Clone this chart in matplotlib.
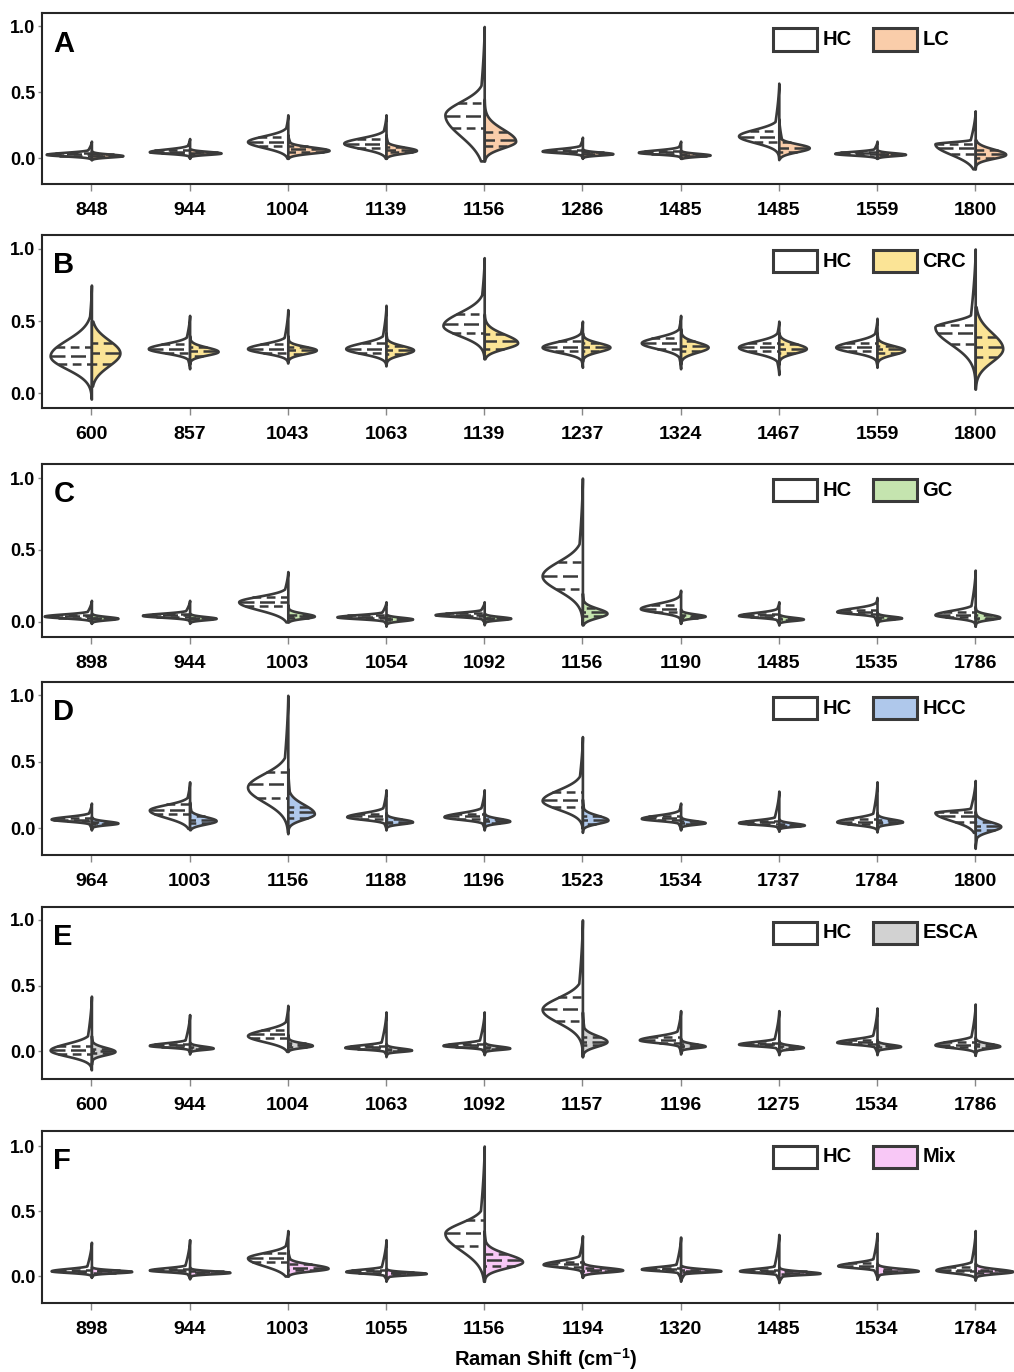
import numpy as np
import matplotlib.pyplot as plt
from matplotlib.patches import Rectangle

plt.rcParams['font.family'] = ['Liberation Sans', 'DejaVu Sans']
plt.rcParams['font.weight'] = 'bold'
plt.rcParams['mathtext.fontset'] = 'custom'
plt.rcParams['mathtext.rm'] = 'Liberation Sans:bold'
plt.rcParams['mathtext.bf'] = 'Liberation Sans:bold'
plt.rcParams['mathtext.default'] = 'rm'

# each half violin: (mode, half width, spread below, spread above, min, max, q1, median, q3)
A_labels = ['848', '944', '1004', '1139', '1156', '1286', '1485', '1485', '1559', '1800']
A_hc = [
    (0.03, 0.46, 0.012, 0.015, -0.01, 0.13, 0.02, 0.03, 0.04),
    (0.05, 0.41, 0.012, 0.020, 0.00, 0.15, 0.04, 0.05, 0.06),
    (0.127, 0.41, 0.045, 0.043, 0.00, 0.33, 0.09, 0.12, 0.16),
    (0.115, 0.43, 0.040, 0.040, 0.00, 0.33, 0.08, 0.11, 0.15),
    (0.33, 0.40, 0.160, 0.100, -0.02, 1.00, 0.23, 0.32, 0.42),
    (0.055, 0.41, 0.012, 0.018, 0.00, 0.16, 0.045, 0.055, 0.065),
    (0.045, 0.43, 0.012, 0.018, 0.00, 0.13, 0.035, 0.045, 0.055),
    (0.17, 0.41, 0.050, 0.050, -0.01, 0.57, 0.12, 0.16, 0.21),
    (0.037, 0.43, 0.012, 0.015, 0.00, 0.13, 0.03, 0.037, 0.045),
    (0.11, 0.41, 0.080, 0.015, -0.08, 0.36, 0.03, 0.08, 0.11),
]
A_dis = [
    (0.02, 0.32, 0.010, 0.012, -0.01, 0.06, 0.015, 0.02, 0.03),
    (0.04, 0.32, 0.010, 0.012, 0.00, 0.07, 0.03, 0.04, 0.045),
    (0.06, 0.42, 0.020, 0.025, 0.00, 0.18, 0.05, 0.07, 0.09),
    (0.06, 0.31, 0.020, 0.025, 0.00, 0.18, 0.05, 0.065, 0.085),
    (0.13, 0.32, 0.050, 0.090, -0.02, 0.45, 0.09, 0.14, 0.20),
    (0.035, 0.31, 0.010, 0.012, 0.00, 0.07, 0.03, 0.035, 0.045),
    (0.025, 0.30, 0.010, 0.012, 0.00, 0.06, 0.02, 0.025, 0.035),
    (0.08, 0.31, 0.030, 0.030, 0.00, 0.30, 0.05, 0.08, 0.12),
    (0.03, 0.29, 0.010, 0.012, 0.00, 0.06, 0.025, 0.03, 0.035),
    (0.03, 0.31, 0.030, 0.040, -0.08, 0.14, 0.00, 0.03, 0.06),
]

B_labels = ['600', '857', '1043', '1063', '1139', '1237', '1324', '1467', '1559', '1800']
B_hc = [
    (0.26, 0.42, 0.090, 0.110, -0.04, 0.75, 0.20, 0.26, 0.32),
    (0.31, 0.42, 0.030, 0.035, 0.17, 0.54, 0.28, 0.31, 0.34),
    (0.31, 0.41, 0.030, 0.035, 0.21, 0.58, 0.28, 0.31, 0.34),
    (0.31, 0.41, 0.035, 0.040, 0.19, 0.61, 0.28, 0.31, 0.35),
    (0.47, 0.42, 0.070, 0.090, 0.24, 0.94, 0.42, 0.48, 0.55),
    (0.32, 0.41, 0.035, 0.040, 0.18, 0.50, 0.29, 0.32, 0.36),
    (0.35, 0.40, 0.040, 0.040, 0.17, 0.54, 0.31, 0.35, 0.38),
    (0.32, 0.41, 0.040, 0.040, 0.13, 0.50, 0.29, 0.32, 0.35),
    (0.32, 0.42, 0.035, 0.040, 0.18, 0.52, 0.29, 0.32, 0.35),
    (0.46, 0.41, 0.120, 0.040, 0.03, 1.00, 0.34, 0.42, 0.47),
]
B_dis = [
    (0.28, 0.29, 0.090, 0.090, 0.05, 0.50, 0.20, 0.28, 0.35),
    (0.29, 0.29, 0.025, 0.030, 0.20, 0.40, 0.26, 0.29, 0.32),
    (0.30, 0.29, 0.025, 0.025, 0.22, 0.40, 0.27, 0.30, 0.32),
    (0.30, 0.28, 0.030, 0.030, 0.20, 0.42, 0.27, 0.30, 0.33),
    (0.35, 0.34, 0.040, 0.060, 0.24, 0.55, 0.31, 0.36, 0.41),
    (0.32, 0.28, 0.030, 0.030, 0.22, 0.42, 0.29, 0.32, 0.35),
    (0.32, 0.28, 0.035, 0.035, 0.20, 0.45, 0.29, 0.33, 0.36),
    (0.31, 0.28, 0.030, 0.035, 0.20, 0.42, 0.28, 0.31, 0.34),
    (0.30, 0.28, 0.030, 0.030, 0.20, 0.42, 0.28, 0.31, 0.33),
    (0.31, 0.28, 0.090, 0.110, 0.03, 0.60, 0.25, 0.32, 0.39),
]

C_labels = ['898', '944', '1003', '1054', '1092', '1156', '1190', '1485', '1535', '1786']
C_hc = [
    (0.04, 0.48, 0.012, 0.015, -0.01, 0.15, 0.03, 0.04, 0.05),
    (0.045, 0.48, 0.012, 0.015, 0.00, 0.15, 0.035, 0.045, 0.055),
    (0.14, 0.50, 0.055, 0.038, 0.00, 0.35, 0.11, 0.14, 0.17),
    (0.035, 0.50, 0.012, 0.015, -0.02, 0.14, 0.025, 0.035, 0.045),
    (0.05, 0.50, 0.012, 0.015, -0.01, 0.14, 0.04, 0.05, 0.06),
    (0.32, 0.41, 0.100, 0.100, -0.02, 1.00, 0.23, 0.32, 0.42),
    (0.093, 0.41, 0.025, 0.035, -0.01, 0.22, 0.07, 0.09, 0.12),
    (0.045, 0.41, 0.012, 0.020, -0.02, 0.14, 0.035, 0.045, 0.055),
    (0.072, 0.41, 0.015, 0.025, -0.02, 0.17, 0.055, 0.07, 0.085),
    (0.05, 0.41, 0.020, 0.030, -0.03, 0.36, 0.035, 0.05, 0.07),
]
C_dis = [
    (0.025, 0.27, 0.010, 0.012, -0.01, 0.06, 0.02, 0.025, 0.03),
    (0.025, 0.27, 0.010, 0.012, -0.01, 0.06, 0.02, 0.025, 0.03),
    (0.04, 0.27, 0.015, 0.020, 0.00, 0.12, 0.03, 0.04, 0.05),
    (0.02, 0.27, 0.012, 0.012, -0.03, 0.05, 0.01, 0.02, 0.03),
    (0.025, 0.27, 0.010, 0.012, -0.02, 0.06, 0.02, 0.025, 0.03),
    (0.06, 0.25, 0.030, 0.035, -0.02, 0.20, 0.04, 0.07, 0.10),
    (0.04, 0.25, 0.012, 0.015, -0.01, 0.09, 0.03, 0.04, 0.05),
    (0.02, 0.25, 0.010, 0.012, -0.02, 0.05, 0.01, 0.02, 0.03),
    (0.028, 0.25, 0.010, 0.012, -0.02, 0.07, 0.02, 0.028, 0.035),
    (0.032, 0.25, 0.015, 0.020, -0.03, 0.11, 0.02, 0.03, 0.05),
]

D_labels = ['964', '1003', '1156', '1188', '1196', '1523', '1534', '1737', '1784', '1800']
D_hc = [
    (0.07, 0.41, 0.015, 0.020, -0.01, 0.19, 0.055, 0.065, 0.08),
    (0.138, 0.41, 0.055, 0.040, 0.00, 0.35, 0.11, 0.14, 0.18),
    (0.31, 0.41, 0.110, 0.100, -0.03, 1.00, 0.23, 0.33, 0.42),
    (0.088, 0.40, 0.020, 0.030, -0.01, 0.29, 0.07, 0.09, 0.11),
    (0.088, 0.41, 0.020, 0.030, -0.01, 0.29, 0.07, 0.09, 0.11),
    (0.21, 0.41, 0.066, 0.080, 0.00, 0.69, 0.16, 0.21, 0.27),
    (0.075, 0.40, 0.015, 0.025, -0.01, 0.19, 0.06, 0.075, 0.09),
    (0.043, 0.41, 0.012, 0.020, -0.02, 0.28, 0.035, 0.045, 0.055),
    (0.05, 0.41, 0.020, 0.030, -0.025, 0.35, 0.035, 0.05, 0.07),
    (0.12, 0.41, 0.060, 0.015, -0.03, 0.36, 0.05, 0.09, 0.12),
]
D_dis = [
    (0.04, 0.27, 0.012, 0.015, -0.01, 0.09, 0.03, 0.04, 0.05),
    (0.058, 0.27, 0.025, 0.030, -0.01, 0.20, 0.04, 0.06, 0.09),
    (0.11, 0.27, 0.040, 0.070, -0.04, 0.45, 0.08, 0.12, 0.16),
    (0.05, 0.27, 0.015, 0.020, -0.01, 0.12, 0.04, 0.05, 0.07),
    (0.055, 0.26, 0.015, 0.020, -0.01, 0.12, 0.04, 0.055, 0.07),
    (0.063, 0.26, 0.025, 0.035, -0.03, 0.22, 0.035, 0.065, 0.09),
    (0.043, 0.25, 0.012, 0.015, -0.01, 0.09, 0.03, 0.043, 0.055),
    (0.025, 0.26, 0.010, 0.015, -0.02, 0.07, 0.02, 0.027, 0.035),
    (0.05, 0.26, 0.015, 0.020, -0.025, 0.12, 0.04, 0.05, 0.065),
    (0.015, 0.26, 0.035, 0.035, -0.15, 0.13, -0.01, 0.015, 0.05),
]

E_labels = ['600', '944', '1004', '1063', '1092', '1157', '1196', '1275', '1534', '1786']
E_hc = [
    (0.01, 0.42, 0.045, 0.050, -0.14, 0.42, -0.02, 0.01, 0.04),
    (0.045, 0.41, 0.012, 0.020, -0.01, 0.28, 0.035, 0.045, 0.055),
    (0.12, 0.41, 0.045, 0.045, 0.00, 0.35, 0.10, 0.13, 0.16),
    (0.03, 0.42, 0.012, 0.020, -0.03, 0.30, 0.02, 0.03, 0.04),
    (0.045, 0.42, 0.012, 0.020, -0.02, 0.30, 0.035, 0.045, 0.055),
    (0.32, 0.41, 0.100, 0.090, -0.04, 1.00, 0.23, 0.32, 0.41),
    (0.088, 0.42, 0.020, 0.030, -0.01, 0.31, 0.065, 0.085, 0.11),
    (0.055, 0.41, 0.012, 0.020, -0.02, 0.31, 0.045, 0.055, 0.065),
    (0.07, 0.41, 0.015, 0.025, -0.02, 0.33, 0.055, 0.07, 0.09),
    (0.05, 0.41, 0.020, 0.030, -0.03, 0.36, 0.035, 0.05, 0.07),
]
E_dis = [
    (0.0, 0.24, 0.025, 0.030, -0.10, 0.12, -0.015, 0.0, 0.02),
    (0.025, 0.24, 0.010, 0.015, -0.02, 0.07, 0.015, 0.025, 0.035),
    (0.045, 0.25, 0.015, 0.020, 0.00, 0.13, 0.035, 0.045, 0.06),
    (0.01, 0.26, 0.010, 0.015, -0.04, 0.06, 0.0, 0.01, 0.02),
    (0.025, 0.26, 0.010, 0.015, -0.025, 0.07, 0.015, 0.025, 0.035),
    (0.075, 0.25, 0.035, 0.045, -0.04, 0.30, 0.05, 0.075, 0.11),
    (0.04, 0.25, 0.012, 0.018, -0.02, 0.10, 0.03, 0.04, 0.055),
    (0.03, 0.25, 0.010, 0.015, -0.025, 0.08, 0.02, 0.03, 0.04),
    (0.038, 0.24, 0.012, 0.015, -0.025, 0.09, 0.03, 0.04, 0.05),
    (0.04, 0.25, 0.015, 0.020, -0.03, 0.11, 0.025, 0.04, 0.055),
]

F_labels = ['898', '944', '1003', '1055', '1156', '1194', '1320', '1485', '1534', '1784']
F_hc = [
    (0.04, 0.41, 0.012, 0.018, -0.01, 0.26, 0.03, 0.04, 0.05),
    (0.046, 0.41, 0.012, 0.018, -0.02, 0.28, 0.035, 0.045, 0.055),
    (0.14, 0.41, 0.060, 0.040, 0.00, 0.35, 0.11, 0.14, 0.18),
    (0.035, 0.41, 0.012, 0.018, -0.03, 0.28, 0.025, 0.035, 0.045),
    (0.33, 0.40, 0.130, 0.080, -0.04, 1.00, 0.23, 0.33, 0.43),
    (0.09, 0.40, 0.020, 0.030, -0.01, 0.31, 0.07, 0.09, 0.11),
    (0.054, 0.40, 0.012, 0.018, -0.03, 0.30, 0.045, 0.055, 0.065),
    (0.04, 0.40, 0.012, 0.018, -0.04, 0.32, 0.03, 0.04, 0.05),
    (0.08, 0.40, 0.015, 0.025, -0.02, 0.33, 0.06, 0.08, 0.10),
    (0.046, 0.40, 0.020, 0.030, -0.03, 0.35, 0.035, 0.05, 0.07),
]
F_dis = [
    (0.035, 0.41, 0.010, 0.012, -0.01, 0.07, 0.025, 0.035, 0.045),
    (0.028, 0.41, 0.010, 0.012, -0.02, 0.07, 0.02, 0.028, 0.035),
    (0.06, 0.41, 0.020, 0.030, 0.00, 0.20, 0.045, 0.065, 0.09),
    (0.02, 0.41, 0.010, 0.012, -0.04, 0.06, 0.012, 0.02, 0.03),
    (0.11, 0.39, 0.045, 0.060, -0.04, 0.35, 0.08, 0.12, 0.17),
    (0.046, 0.41, 0.015, 0.020, -0.01, 0.12, 0.035, 0.05, 0.065),
    (0.04, 0.41, 0.010, 0.015, -0.04, 0.08, 0.03, 0.04, 0.05),
    (0.022, 0.42, 0.010, 0.015, -0.05, 0.07, 0.012, 0.022, 0.035),
    (0.04, 0.42, 0.012, 0.018, -0.025, 0.10, 0.03, 0.04, 0.055),
    (0.035, 0.38, 0.015, 0.020, -0.03, 0.10, 0.02, 0.035, 0.05),
]

letters = ['A', 'B', 'C', 'D', 'E', 'F']
groups = ['LC', 'CRC', 'GC', 'HCC', 'ESCA', 'Mix']
colors = ['#FACDAA', '#FBE496', '#C5E4AF', '#AFC8EB', '#D2D2D2', '#F8C8F6']
labels = [A_labels, B_labels, C_labels, D_labels, E_labels, F_labels]
hc_sets = [A_hc, B_hc, C_hc, D_hc, E_hc, F_hc]
dis_sets = [A_dis, B_dis, C_dis, D_dis, E_dis, F_dis]

LINE = '#3a3a3a'
LW = 1.9
TAIL = 0.15
W, H = 1014, 1372
# panel (top, bottom) in pixels and y limits
boxes = [(13.3, 184), (235, 408.3), (464, 637), (682, 855), (906.7, 1079), (1130.7, 1302.7)]
ylims = [(-0.195, 1.10), (-0.104, 1.097), (-0.105, 1.098), (-0.20, 1.10), (-0.21, 1.10), (-0.205, 1.118)]
LEFT, STEP = 42.3, 98.2


def half_violin(ax, x, p, side, color):
    peak, w, s_dn, s_up, lo, hi, q1, med, q3 = p
    y = np.linspace(lo, hi, 600)
    s = np.where(y < peak, s_dn, s_up)
    core = np.exp(-0.5 * ((y - peak) / s) ** 2)
    ramp = np.where(y < peak, (y - lo) / (peak - lo), (hi - y) / (hi - peak))
    tail = TAIL * np.clip(ramp, 0, 1) ** 1.5
    dens = w * np.maximum(core, tail)
    ax.fill_betweenx(y, x, x + side * dens, facecolor=color, edgecolor=LINE,
                     lw=LW, joinstyle='round', zorder=2)
    for q, ls in ((q1, (0, (3.5, 2.2))), (med, (0, (6, 2.2))), (q3, (0, (3.5, 2.2)))):
        d = np.interp(q, y, dens)
        ax.plot([x + side * d, x], [q, q], color=LINE, lw=1.8, ls=ls,
                solid_capstyle='butt', dash_capstyle='butt', zorder=3)


fig = plt.figure(figsize=(W / 100, H / 100), dpi=100)

for i in range(6):
    top, bot = boxes[i]
    hpx = bot - top
    ax = fig.add_axes([LEFT / W, 1 - bot / H, 10 * STEP / W, hpx / H])
    xs = np.arange(len(labels[i]))
    for x, p_hc, p_dis in zip(xs, hc_sets[i], dis_sets[i]):
        half_violin(ax, x, p_hc, -1, 'white')
        half_violin(ax, x, p_dis, 1, colors[i])

    ax.set_xlim(-0.5, 9.5)
    ax.set_ylim(*ylims[i])
    ax.set_xticks(xs)
    ax.set_xticklabels(labels[i], fontsize=14, fontweight='bold')
    ax.set_yticks([0.0, 0.5, 1.0])
    ax.set_yticklabels(['0.0', '0.5', '1.0'], fontsize=13, fontweight='bold')
    ax.tick_params(axis='x', length=5, width=1, color='#888888', pad=8)
    ax.tick_params(axis='y', length=3, width=1, color='#888888', pad=2)
    for sp in ax.spines.values():
        sp.set_color('#262626')
        sp.set_linewidth(1.5)

    ax.text(11 / (10 * STEP), 1 - 38.4 / hpx, letters[i], transform=ax.transAxes,
            fontsize=21, fontweight='bold', va='baseline', ha='left')

    # legend boxes
    bw, bh, btop = 44.6 / (10 * STEP), 22.4 / hpx, 1 - 15 / hpx
    for j, (name, fc) in enumerate([('HC', 'white'), (groups[i], colors[i])]):
        x0 = (772.7 + j * 100 - LEFT) / (10 * STEP)
        ax.add_patch(Rectangle((x0, btop - bh), bw, bh, transform=ax.transAxes,
                               facecolor=fc, edgecolor=LINE, lw=2.2, zorder=5,
                               clip_on=False))
        ax.text(x0 + bw + 5 / (10 * STEP), btop - bh / 2, name, transform=ax.transAxes,
                fontsize=14.5, fontweight='bold', va='center', ha='left')

fig.text(546 / W, 1 - 1359 / H, r'Raman Shift (cm$^{-1}$)', ha='center', va='center',
         fontsize=14.5, fontweight='bold')

fig.savefig('out.png', dpi=100)
